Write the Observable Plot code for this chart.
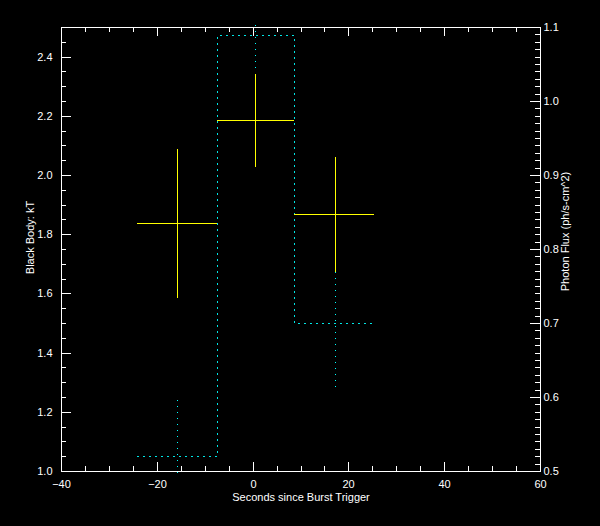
<!DOCTYPE html>
<html><head><meta charset="utf-8">
<script src="https://cdn.jsdelivr.net/npm/d3@7"></script>
<script src="https://cdn.jsdelivr.net/npm/@observablehq/plot@0.6"></script>
<style>html,body{margin:0;padding:0;background:#000;}</style>
</head><body><div id="chart"></div>
<script>
// ---- data ----
const binEdges   = [-24.1, -7.5, 8.7, 25.4];      // seconds, time-bin edges
const binCenters = [-15.8, 0.6, 17.1];            // seconds
const kT         = [1.837, 2.185, 1.867];         // Black Body kT
const kTLow      = [1.585, 2.028, 1.671];
const kTHigh     = [2.088, 2.341, 2.061];
const flux       = [0.520, 1.089, 0.700];         // ph/s-cm^2
const fluxLow    = [0.497, 1.045, 0.614];
const fluxHigh   = [0.603, 1.107, 0.786];

const xTicks     = [-40, -20, 0, 20, 40, 60];
const kTTicks    = [1.0, 1.2, 1.4, 1.6, 1.8, 2.0, 2.2, 2.4];
const fluxTicks  = [0.5, 0.6, 0.7, 0.8, 0.9, 1.0, 1.1];
const xMinorStep = 5, kTMinorStep = 0.05, fluxMinorStep = 0.01;

const xDomain = [-40, 60], kTDomain = [1.0, 2.5], fluxDomain = [0.5, 1.1];
const xLabel = "Seconds since Burst Trigger";
const leftLabel = "Black Body: kT";
const rightLabel = "Photon Flux (ph/s-cm^2)";

// ---- layout ----
const W = 600, H = 526, mL = 61, mR = 60, mT = 27, mB = 55;
const fw = W - mL - mR, fh = H - mT - mB;
const MAJ = 9, MIN = 5;
const FONT = "Liberation Sans, Arial, Helvetica, sans-serif";
const YEL = "#ffff00", CYAN = "#00ffff";

const toKT = f => kTDomain[0] + (f - fluxDomain[0]) * (kTDomain[1] - kTDomain[0]) / (fluxDomain[1] - fluxDomain[0]);
const fromKT = k => fluxDomain[0] + (k - kTDomain[0]) * (fluxDomain[1] - fluxDomain[0]) / (kTDomain[1] - kTDomain[0]);

const xMinor = d3.range(xDomain[0], xDomain[1] + 1e-9, xMinorStep);
const kTMinor = d3.range(kTDomain[0], kTDomain[1] + 1e-9, kTMinorStep);
const fluxMinor = d3.range(fluxDomain[0], fluxDomain[1] + 1e-9, fluxMinorStep);

const idx = d3.range(binCenters.length);
const stepPts = binEdges.map((x, i) => ({x, f: flux[Math.min(i, flux.length - 1)]}));

const chart = Plot.plot({
  width: W, height: H,
  marginLeft: mL, marginRight: mR, marginTop: mT, marginBottom: mB,
  x: {domain: xDomain, round: true},
  y: {domain: kTDomain, round: true},
  style: {background: "#000", color: "#fff", fontFamily: FONT, fontSize: "11px"},
  marks: [
    // photon flux histogram (right axis)
    Plot.line(stepPts, {x: "x", y: d => toKT(d.f), curve: "step-after", stroke: CYAN, strokeWidth: 1, strokeDasharray: "1,5"}),
    Plot.ruleX(idx, {x: i => binCenters[i], y1: i => toKT(fluxLow[i]), y2: i => toKT(fluxHigh[i]), stroke: CYAN, strokeWidth: 1, strokeDasharray: "1,5"}),
    // black body kT crosses (left axis)
    Plot.ruleY(idx, {y: i => kT[i], x1: i => binEdges[i], x2: i => binEdges[i + 1], stroke: YEL, strokeWidth: 1}),
    Plot.ruleX(idx, {x: i => binCenters[i], y1: i => kTLow[i], y2: i => kTHigh[i], stroke: YEL, strokeWidth: 1}),
    // frame
    Plot.frame({stroke: "#fff", strokeWidth: 1}),
    // x ticks bottom & top (inward)
    Plot.ruleX(xTicks, {x: d => d, insetTop: fh - MAJ, stroke: "#fff"}),
    Plot.ruleX(xMinor, {x: d => d, insetTop: fh - MIN, stroke: "#fff"}),
    Plot.ruleX(xTicks, {x: d => d, insetBottom: fh - MAJ, stroke: "#fff"}),
    Plot.ruleX(xMinor, {x: d => d, insetBottom: fh - MIN, stroke: "#fff"}),
    // left y ticks
    Plot.ruleY(kTTicks, {y: d => d, insetRight: fw - (MAJ + 1), stroke: "#fff"}),
    Plot.ruleY(kTMinor, {y: d => d, insetRight: fw - MIN, stroke: "#fff"}),
    // right y ticks (flux)
    Plot.ruleY(fluxTicks, {y: d => toKT(d), insetLeft: fw - (MAJ + 1), stroke: "#fff"}),
    Plot.ruleY(fluxMinor, {y: d => toKT(d), insetLeft: fw - MIN, stroke: "#fff"}),
    // tick labels
    Plot.axisX({ticks: xTicks, tickSize: 0, tickPadding: 9, label: null, fontSize: 11, fill: "#fff", tickFormat: d3.format("d")}),
    Plot.axisY({anchor: "left", ticks: kTTicks, tickSize: 0, tickPadding: 9, label: null, fontSize: 11, fill: "#fff", tickFormat: d3.format(".1f")}),
    Plot.axisY({anchor: "right", ticks: fluxTicks.map(toKT), tickSize: 0, tickPadding: 3, label: null, fontSize: 11, fill: "#fff", tickFormat: d => d3.format(".1f")(fromKT(d))}),
    // axis titles
    Plot.text([xLabel], {text: d => d, frameAnchor: "bottom", textAnchor: "middle", dy: 29, fill: "#fff", fontSize: 11}),
    Plot.text([leftLabel], {text: d => d, frameAnchor: "left", textAnchor: "middle", dx: -31, dy: -12, rotate: -90, fill: "#fff", fontSize: 11}),
    Plot.text([rightLabel], {text: d => d, frameAnchor: "right", textAnchor: "middle", dx: 25, dy: -18, rotate: -90, fill: "#fff", fontSize: 11})
  ]
});
document.getElementById("chart").appendChild(chart);
</script>
</body></html>
